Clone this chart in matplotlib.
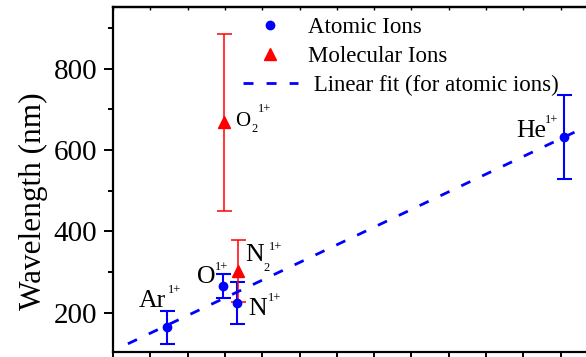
import matplotlib
matplotlib.use("Agg")
import matplotlib.pyplot as plt
from matplotlib.lines import Line2D
import numpy as np

plt.rcParams["font.family"] = ["Liberation Serif", "DejaVu Serif"]

# atomic ions (x quantity: tick labels are cropped off in the reference)
atomic_names = ["Ar", "O", "N", "He"]
atomic_x = [1.46, 2.94, 3.32, 12.09]
atomic_wl = [164, 266, 223, 632]
atomic_err = [41, 30, 52, 103]

# molecular ions
molecular_names = ["O2", "N2"]
molecular_x = [2.98, 3.36]
molecular_wl = [668, 303]
molecular_err = [217, 76]

fit_range = [0.4, 12.4]

BLUE = "#0000ff"
RED = "#ff0000"
DASHES = (3.6, 4.7)

fig = plt.figure(figsize=(5.86, 3.57), dpi=100)
ax = fig.add_axes([113 / 586, 5 / 357, 485 / 586, 345 / 357])

ax.errorbar(atomic_x, atomic_wl, yerr=atomic_err, fmt="o", color=BLUE,
            markersize=6, elinewidth=1.5, capsize=5.4, capthick=1.5)
ax.errorbar(molecular_x, molecular_wl, yerr=molecular_err, fmt="^", color=RED,
            markersize=8, elinewidth=1.1, capsize=5.4, capthick=1.1)

slope, icpt = np.polyfit(atomic_x, atomic_wl, 1)
xf = np.array(fit_range)
ax.plot(xf, slope * xf + icpt, color=BLUE, lw=2, dashes=DASHES)

# ion labels: (text, dx, dy, fontsize) in pixels relative to the point
BIG, MID, SMALL = 18.5, 15, 9
labels = {
    ("Ar", 0): [("Ar", -29, 20, BIG), ("1+", 0, 34, SMALL)],
    ("O", 0): [("O", -26, 3, BIG), ("1+", -8, 16, SMALL)],
    ("N", 0): [("N", 11, -12, BIG), ("1+", 31, 2, SMALL)],
    ("He", 0): [("He", -48, 0, BIG), ("1+", -19, 14, SMALL)],
    ("O2", 1): [("O", 11, -4, MID), ("2", 27, -10, SMALL), ("1+", 34, 10, SMALL)],
    ("N2", 1): [("N", 7, 10, BIG), ("2", 25, 0, SMALL), ("1+", 31, 21, SMALL)],
}
for (name, kind), parts in labels.items():
    if kind == 0:
        i = atomic_names.index(name)
        px, py = atomic_x[i], atomic_wl[i]
    else:
        i = molecular_names.index(name)
        px, py = molecular_x[i], molecular_wl[i]
    for text, dx, dy, size in parts:
        ax.annotate(text, (px, py), xytext=(dx, dy), textcoords="offset pixels",
                    fontsize=size, ha="left", va="baseline")

ax.set_xlim(0, 13)
ax.set_ylim(103, 952)
ax.set_xticks(np.arange(0, 14, 1))
ax.set_yticks([200, 400, 600, 800])
ax.set_yticks(np.arange(200, 1000, 100), minor=True)
ax.tick_params(axis="y", which="major", direction="out", length=6.5, width=1.4,
               labelsize=21, pad=5)
ax.tick_params(axis="y", which="minor", direction="out", length=3.6, width=1.4)
ax.tick_params(axis="x", direction="out", length=6.5, width=1.4, labelbottom=False)
top = ax.secondary_xaxis("top")
top.set_xticks(np.arange(0, 14, 1))
top.tick_params(direction="in", length=2.5, width=1, labeltop=False)
top.spines["top"].set_linewidth(1.6)
for s in ax.spines.values():
    s.set_linewidth(1.6)

ax.set_ylabel("Wavelength (nm)", fontsize=22.5)
ax.yaxis.set_label_coords(-0.134, 0.438)

handles = [
    Line2D([], [], ls="none", marker="o", color=BLUE, markersize=6),
    Line2D([], [], ls="none", marker="^", color=RED, markersize=8),
    Line2D([], [], color=BLUE, lw=2, dashes=DASHES),
]
ax.legend(handles, ["Atomic Ions", "Molecular Ions", " Linear fit (for atomic ions)"],
          loc="upper left", bbox_to_anchor=(0.268, 0.97), frameon=False,
          fontsize=16.5, handlelength=2.4, handletextpad=0.42, labelspacing=0.33,
          borderpad=0, borderaxespad=0)

fig.savefig("out.png", dpi=100)
